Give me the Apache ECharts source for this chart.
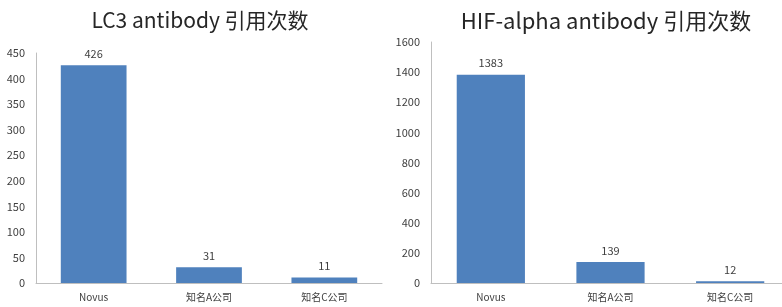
<!DOCTYPE html>
<html><head><meta charset="utf-8">
<script src="https://cdn.jsdelivr.net/npm/echarts@6/dist/echarts.min.js"></script>
<style>html,body{margin:0;padding:0;background:#fff}#c{width:782px;height:307px}</style>
</head><body><div id="c"></div>
<script>
const categories = ['Novus', '知名A公司', '知名C公司'];
const lc3Values = [426, 31, 11];
const hifValues = [1383, 139, 12];
const titles = ['LC3 antibody 引用次数', 'HIF-alpha antibody 引用次数'];

const FONT = '"Noto Sans CJK SC", "Noto Sans", sans-serif';
const chart = echarts.init(document.getElementById('c'));
function xAxis(i){
  return {type:'category', gridIndex:i, data:categories,
    axisLine:{lineStyle:{color:'#bfbfbf', width:1}}, axisTick:{show:false},
    axisLabel:{color:'#404040', fontSize:10, fontFamily:FONT, margin:9, interval:0}};
}
function yAxis(i, max, interval){
  return {type:'value', gridIndex:i, min:0, max:max, interval:interval,
    axisLine:{show:true, lineStyle:{color:'#bfbfbf', width:1}}, axisTick:{show:false},
    splitLine:{show:false},
    axisLabel:{color:'#404040', fontSize:11, fontFamily:FONT, margin:11, formatter:function(v){return String(v);}}};
}
function series(i, data){
  return {type:'bar', xAxisIndex:i, yAxisIndex:i, data:data, barWidth:'57%',
    itemStyle:{color:'#4f81bd'},
    label:{show:true, position:'top', color:'#404040', fontSize:11, fontFamily:FONT, distance:6},
    silent:true};
}
chart.setOption({
  animation:false,
  title:[
    {text:titles[0], left:195, top:5, textAlign:'center', textStyle:{fontSize:21, fontWeight:'normal', color:'#262626', fontFamily:FONT}},
    {text:titles[1], left:601, top:5, textAlign:'center', textStyle:{fontSize:22, fontWeight:'normal', color:'#262626', fontFamily:FONT}}
  ],
  grid:[
    {left:36, top:53, width:346, height:230, outerBoundsMode:'none'},
    {left:431, top:42, width:359, height:241, outerBoundsMode:'none'}
  ],
  xAxis:[xAxis(0), xAxis(1)],
  yAxis:[yAxis(0, 450, 50), yAxis(1, 1600, 200)],
  series:[series(0, lc3Values), series(1, hifValues)]
});
</script></body></html>
